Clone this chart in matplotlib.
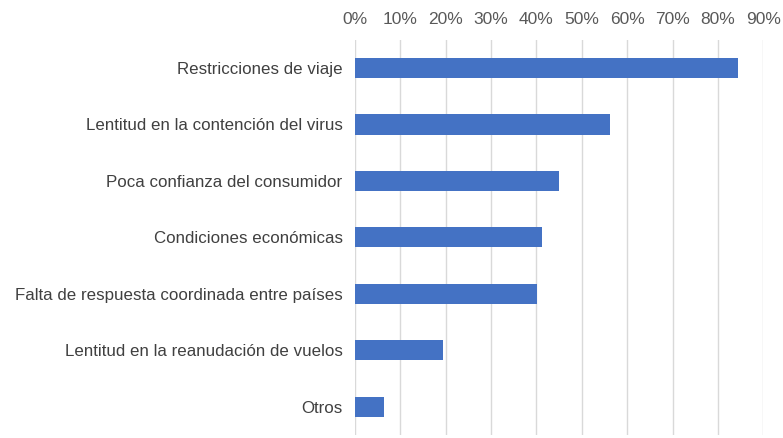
import matplotlib.pyplot as plt
from matplotlib.ticker import PercentFormatter

# Datos
categorias = [
    "Restricciones de viaje",
    "Lentitud en la contención del virus",
    "Poca confianza del consumidor",
    "Condiciones económicas",
    "Falta de respuesta coordinada entre países",
    "Lentitud en la reanudación de vuelos",
    "Otros",
]
valores = [84.4, 56.3, 45.0, 41.3, 40.2, 19.4, 6.4]
ticks_x = [0, 10, 20, 30, 40, 50, 60, 70, 80, 90]

plt.rcParams["font.family"] = ["Liberation Sans", "DejaVu Sans"]

fig = plt.figure(figsize=(7.83, 4.38), dpi=100)
ax = fig.add_axes([0.4534, 0.0069, 0.5214, 0.9022])

posiciones = list(range(len(categorias)))
ax.barh(posiciones, valores, height=0.355, color="#4472C4", zorder=3)

ax.set_ylim(len(categorias) - 0.5, -0.5)
ax.set_yticks(posiciones)
ax.set_yticklabels(categorias, fontsize=12.2, color="#404040")

ax.set_xlim(0, 90)
ax.set_xticks(ticks_x)
ax.xaxis.set_major_formatter(PercentFormatter(decimals=0))
ax.xaxis.tick_top()
ax.tick_params(axis="x", labelsize=12.5, labelcolor="#595959", length=0, pad=9.5)
ax.tick_params(axis="y", length=0, pad=9)

ax.grid(axis="x", color="#d9d9d9", linewidth=1, zorder=0)
for s in ax.spines.values():
    s.set_visible(False)

fig.savefig("out.png", dpi=100)
